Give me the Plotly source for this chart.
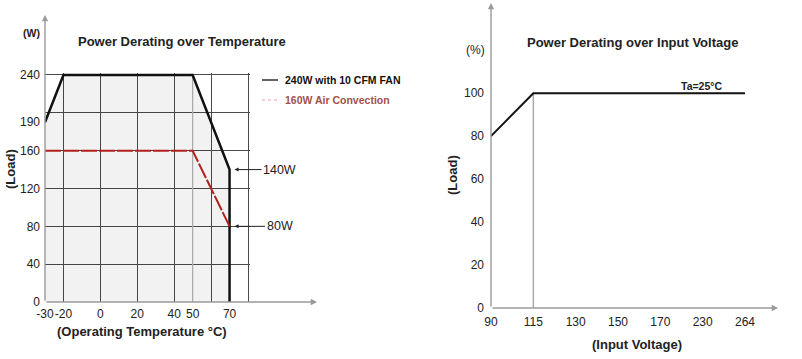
import plotly.graph_objects as go

W, H = 802, 359

# ---------------- data: Power Derating over Temperature ----------------
temp_fan = [-30, -20, 50, 70, 70]
load_fan = [190, 240, 240, 140, 0]
temp_air = [-30, 50, 70]
load_air = [160, 160, 80]
temp_ticks = [-30, -20, 0, 20, 40, 50, 70]
load_ticks = [0, 40, 80, 120, 160, 190, 240]
temp_grid = [-20, 0, 20, 40, 60, 80]
temp_grid_light = [50]
load_grid = [40, 80, 120, 160, 200, 240]
legend_labels = ["240W with 10 CFM FAN", "160W Air Convection"]

# ---------------- data: Power Derating over Input Voltage ----------------
volt_categories = ["90", "115", "130", "150", "170", "230", "264"]
volt_curve = ["90", "115", "264"]
load_curve = [80, 100, 100]
volt_marker = ["115", "115"]
load_marker = [0, 100]
pct_ticks = [0, 20, 40, 60, 80, 100]

FONT = "Liberation Sans, Arial, sans-serif"
AXIS_GRAY = "#9a9a9a"
GRID = "#4a4a4a"
RED = "#b3201c"
RED_TEXT = "#a4504a"


def px(x):
    return x / W


def py(y):
    return 1 - y / H


fig = go.Figure()

# light 50 degC guide line
fig.add_trace(go.Scatter(x=temp_grid_light * 2, y=[0, 240], mode="lines",
                         line=dict(color="#b5b5b5", width=1.3),
                         xaxis="x", yaxis="y", showlegend=False, hoverinfo="skip"))
# fan curve with shading
fig.add_trace(go.Scatter(x=temp_fan, y=load_fan, mode="lines", fill="tozeroy",
                         fillcolor="rgba(0,0,0,0.05)",
                         line=dict(color="#111111", width=2.5),
                         xaxis="x", yaxis="y", showlegend=False))
# air convection curve
fig.add_trace(go.Scatter(x=temp_air, y=load_air, mode="lines",
                         line=dict(color=RED, width=2, dash="16px,2px"),
                         xaxis="x", yaxis="y", showlegend=False))
# invisible carriers for the label axes
fig.add_trace(go.Scatter(x=temp_ticks, y=load_ticks, mode="markers",
                         marker=dict(opacity=0), xaxis="x3", yaxis="y3",
                         showlegend=False, hoverinfo="skip"))

# right chart
fig.add_trace(go.Scatter(x=volt_marker, y=load_marker, mode="lines",
                         line=dict(color="#aaaaaa", width=1.5),
                         xaxis="x2", yaxis="y2", showlegend=False, hoverinfo="skip"))
fig.add_trace(go.Scatter(x=volt_curve, y=load_curve, mode="lines",
                         line=dict(color="#111111", width=2),
                         xaxis="x2", yaxis="y2", showlegend=False))

tickfont = dict(family=FONT, size=12, color="#222222")
# ranges padded a little so the grid lines at 80 degC / 240 W are not clipped
XR = [-30, 81.0]
YR = [0, 242.0]
L_X = [px(45), px(248 + 1.0 * 1.845)]
L_Y = [py(302), py(75 - 2.0 * 0.946)]

fig.update_layout(
    width=W, height=H,
    margin=dict(l=0, r=0, t=0, b=0, autoexpand=False),
    paper_bgcolor="white", plot_bgcolor="rgba(0,0,0,0)",
    font=dict(family=FONT, color="#222222"),
    showlegend=False,
    # grid axes (left)
    xaxis=dict(domain=L_X, range=XR, tickmode="array", tickvals=temp_grid,
               showticklabels=False, ticks="", showgrid=True, gridcolor=GRID,
               gridwidth=1, showline=False, zeroline=False, anchor="y", fixedrange=True),
    yaxis=dict(domain=L_Y, range=YR, tickmode="array", tickvals=load_grid,
               showticklabels=False, ticks="", showgrid=True, gridcolor=GRID,
               gridwidth=1, showline=False, zeroline=False, anchor="x", fixedrange=True),
    # label axes (left)
    xaxis3=dict(domain=L_X, overlaying="x", anchor="y3", range=XR, tickmode="array",
                tickvals=temp_ticks, ticktext=[str(v) for v in temp_ticks],
                tickangle=0, showgrid=False, showline=False, zeroline=False, ticks="",
                tickfont=tickfont, ticklabelstandoff=3, fixedrange=True),
    yaxis3=dict(domain=L_Y, overlaying="y", anchor="x3", range=YR, tickmode="array",
                tickvals=load_ticks, ticktext=[str(v) for v in load_ticks],
                showgrid=False, showline=False, zeroline=False, ticks="",
                tickfont=tickfont, ticklabelstandoff=4, fixedrange=True),
    # right chart
    xaxis2=dict(domain=[px(491), px(778)], type="category",
                categoryorder="array", categoryarray=volt_categories,
                range=[0, 6.78], tickmode="array", tickvals=volt_categories,
                tickangle=0, showgrid=False, showline=False, zeroline=False, ticks="",
                tickfont=tickfont, ticklabelstandoff=5, anchor="y2", fixedrange=True),
    yaxis2=dict(domain=[py(308), py(3)], range=[0, 142], tickmode="array",
                tickvals=pct_ticks, showgrid=False, showline=False, zeroline=False,
                ticks="", tickfont=tickfont, ticklabelstandoff=6, anchor="x2",
                fixedrange=True),
)


def arrow(hx, hy, ax, ay):
    # axis line with arrow head; head at pixel (hx, hy), tail offset (ax, ay)
    fig.add_annotation(x=px(hx), y=py(hy), xref="paper", yref="paper", text="",
                       showarrow=True, ax=ax, ay=ay, arrowhead=2, arrowsize=0.9,
                       arrowwidth=1.4, arrowcolor=AXIS_GRAY, standoff=0)


arrow(45, 15, 0, 287)
arrow(317, 302, -272, 0)
arrow(491, 3, 0, 305)
arrow(778, 308, -287, 0)


def text(x, y, s, size=13, bold=True, color="#222222", angle=0, xanchor="center"):
    fig.add_annotation(x=px(x), y=py(y), xref="paper", yref="paper",
                       text=f"<b>{s}</b>" if bold else s, showarrow=False,
                       textangle=angle, xanchor=xanchor, yanchor="middle",
                       font=dict(family=FONT, size=size, color=color))


# left chart texts
text(182, 41, "Power Derating over Temperature", 13)
text(31, 33, "(W)", 10.5)
text(10, 169, "(Load)", 13, angle=-90)
text(142, 331, "(Operating Temperature °C)", 13)

# legend (custom)
leg_colors = ["#111111", "#e8a0a0"]
leg_text_colors = ["#111111", RED_TEXT]
leg_dash = ["solid", "dot"]
for i, lab in enumerate(legend_labels):
    yy = 80 + 20 * i
    fig.add_shape(type="line", xref="paper", yref="paper",
                  x0=px(262), x1=px(278), y0=py(yy), y1=py(yy),
                  line=dict(color=leg_colors[i], width=1.3 if i == 0 else 1.2,
                            dash=leg_dash[i]))
    text(283, yy, lab, 10.5, color=leg_text_colors[i], xanchor="left")

# 140W / 80W callouts
for v in [load_fan[3], load_air[2]]:
    fig.add_annotation(x=temp_fan[3], y=v, xref="x", yref="y", text=f"{v}W",
                       showarrow=True, ax=50, ay=0, arrowhead=2, arrowsize=0.8,
                       arrowwidth=1, arrowcolor="#222222", standoff=5,
                       font=dict(family=FONT, size=12.5, color="#222222"))

# right chart texts
text(632, 42, "Power Derating over Input Voltage", 13)
text(475, 50, "(%)", 12, bold=False)
text(701, 86, "Ta=25°C", 10.5)
text(452, 175, "(Load)", 13, angle=-90)
text(637, 344, "(Input Voltage)", 13)

fig.write_html("out.html", config={"displayModeBar": False},
               post_script="document.body.style.margin='0';")
